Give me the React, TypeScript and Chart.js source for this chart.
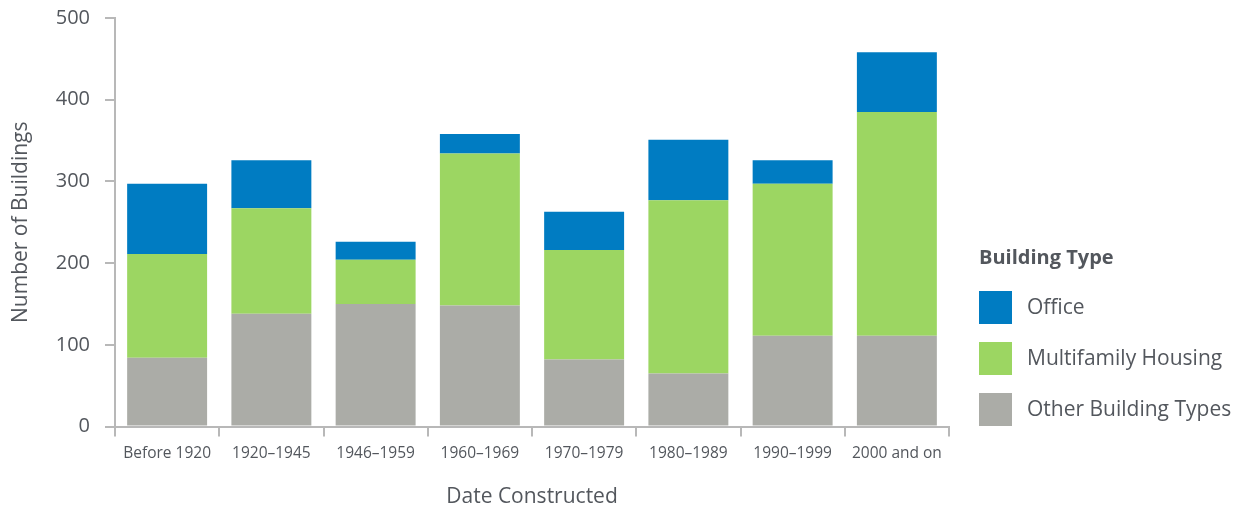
import React, { useEffect, useRef } from "react";
import { Chart, registerables } from "chart.js";

Chart.register(...registerables);

const categories = ["Before 1920", "1920–1945", "1946–1959", "1960–1969", "1970–1979", "1980–1989", "1990–1999", "2000 and on"];
const otherValues = [84, 138, 150, 148, 82, 65, 111, 111];
const multifamilyValues = [127, 129, 54, 186, 134, 212, 186, 274];
const officeValues = [86, 59, 22, 24, 47, 74, 29, 73];
const yTicks = [0, 100, 200, 300, 400, 500];

const FONT = "'Open Sans', Lato, sans-serif";
const TEXT = "#53575d";

const legendPlugin = {
  id: "sideLegend",
  afterDraw(chart: any) {
    const ctx = chart.ctx;
    const area = chart.chartArea;
    const x0 = area.right + 30;
    ctx.save();
    ctx.fillStyle = TEXT;
    ctx.textBaseline = "middle";
    ctx.textAlign = "left";
    ctx.font = `bold 20px ${FONT}`;
    ctx.fillText("Building Type", x0, 258);
    const ds = chart.data.datasets.slice().reverse();
    ds.forEach((d: any, i: number) => {
      const y = 291 + i * 51;
      ctx.fillStyle = d.backgroundColor;
      ctx.fillRect(x0, y, 33, 33);
      ctx.fillStyle = TEXT;
      ctx.font = `21px ${FONT}`;
      ctx.fillText(d.label, x0 + 48, y + 17);
    });
    ctx.restore();
  },
};

export default function App() {
  const ref = useRef<HTMLCanvasElement>(null);
  useEffect(() => {
    if (!ref.current) return;
    const chart = new Chart(ref.current, {
      type: "bar",
      data: {
        labels: categories,
        datasets: [
          { label: "Other Building Types", data: otherValues, backgroundColor: "#abaca7" },
          { label: "Multifamily Housing", data: multifamilyValues, backgroundColor: "#9cd662" },
          { label: "Office", data: officeValues, backgroundColor: "#007cc2" },
        ],
      },
      options: {
        animation: false,
        responsive: true,
        maintainAspectRatio: false,
        layout: { padding: { top: 18, right: 300, bottom: 0, left: 8 } },
        datasets: { bar: { barPercentage: 1, categoryPercentage: 0.767 } },
        plugins: {
          legend: { display: false },
          tooltip: { enabled: false },
        },
        scales: {
          x: {
            stacked: true,
            afterFit: (s: any) => { s.height = 85.5; },
            grid: { display: true, drawOnChartArea: false, offset: true, tickLength: 10, color: "#b8b8b8", lineWidth: 2 },
            border: { color: "#b8b8b8", width: 2 },
            ticks: { color: TEXT, font: { family: FONT, size: 15.5 }, padding: 8, maxRotation: 0 },
            title: { display: true, text: "Date Constructed", color: TEXT, font: { family: FONT, size: 21 }, padding: { top: 12, bottom: 2 } },
          },
          y: {
            stacked: true,
            min: 0,
            max: 500,
            afterBuildTicks: (s: any) => { s.ticks = yTicks.map((v) => ({ value: v })); },
            afterFit: (s: any) => { s.width = 107; s.paddingTop = 0; s.paddingBottom = 0; },
            grid: { display: true, drawOnChartArea: false, tickLength: 10, color: "#b8b8b8", lineWidth: 2 },
            border: { color: "#b8b8b8", width: 2 },
            ticks: { color: TEXT, font: { family: FONT, size: 20 }, padding: 15 },
            title: { display: true, text: "Number of Buildings", color: TEXT, font: { family: FONT, size: 21 }, padding: { top: 0, bottom: 10 } },
          },
        },
      },
      plugins: [legendPlugin],
    });
    return () => chart.destroy();
  }, []);
  return (
    <div style={{ position: "fixed", left: 0, top: 0, width: 1249, height: 512, background: "#fff" }}>
      <canvas ref={ref} />
    </div>
  );
}
